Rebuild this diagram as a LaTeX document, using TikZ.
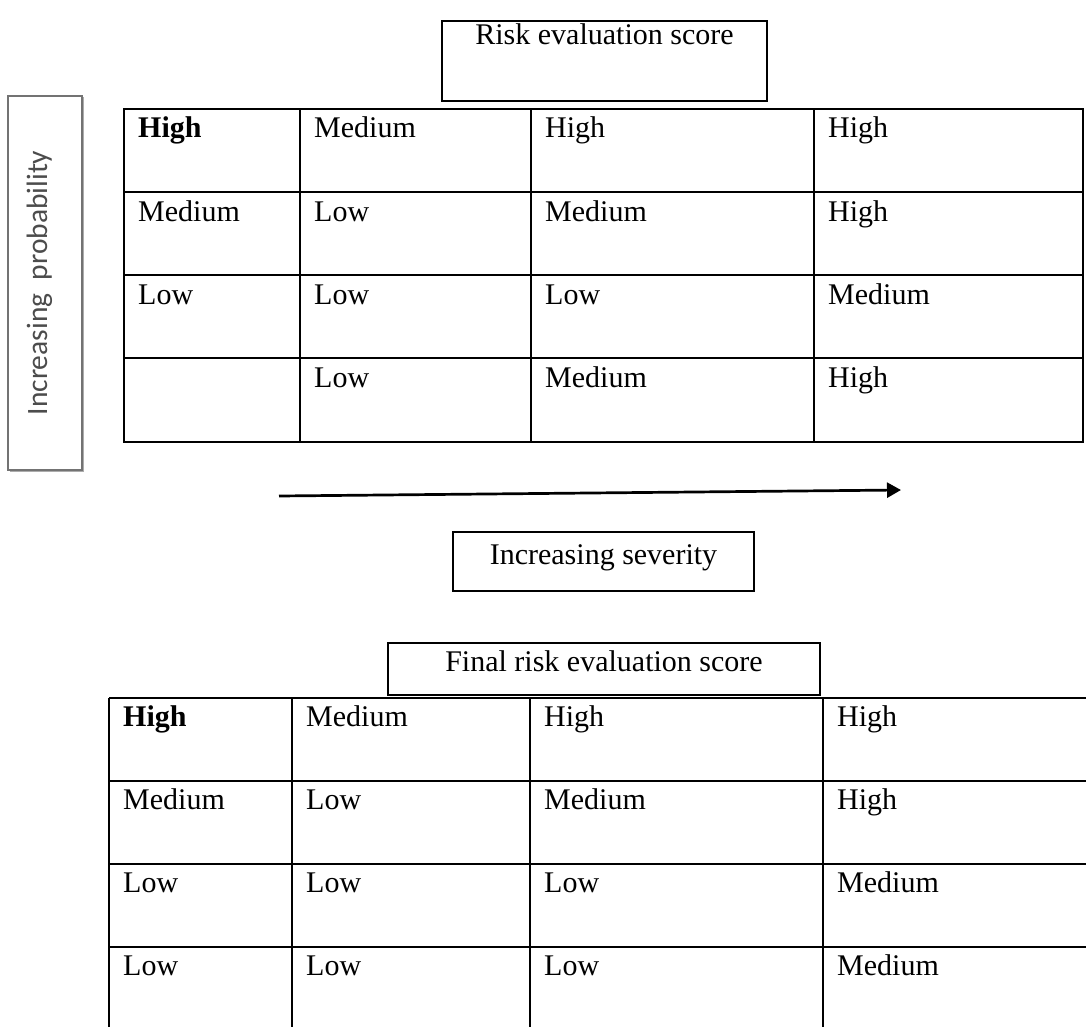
\documentclass[tikz,border=0pt]{standalone}
\usepackage{fontspec}
\setmainfont{Liberation Serif}
\newfontfamily\probfont{Carlito}
\usetikzlibrary{arrows.meta,positioning,shadows}

\begin{document}
\begin{tikzpicture}[x=1pt, y=-1pt,
    cell/.style={anchor=base west, inner sep=0pt, font=\fontsize{30}{36}\selectfont},
    titlebox/.style={draw, line width=2pt, anchor=north, inner sep=0pt, font=\fontsize{30}{36}\selectfont},
    grid/.style={line width=2pt},
    probbox/.style={draw=black!55, line width=1.5pt, fill=white, rotate=90, inner sep=0pt,
        drop shadow={shadow xshift=1.5pt, shadow yshift=-1.5pt, fill=black!65},
        text=black!70, font=\probfont\fontsize{29.5}{34}\selectfont},
    sevarrow/.style={-{Triangle[length=14pt, width=15pt]}, line width=2.7pt},
]
\useasboundingbox (0,0) rectangle (1086,1027);

% Titles
\node[titlebox, minimum width=325pt, text height=24pt, text depth=56pt] (riskbox) at (604.5,20) {Risk evaluation score};
\node[titlebox, minimum width=301pt, text height=32pt, text depth=27pt] (sevbox) at (603.5,531) {Increasing severity};
\node[titlebox, minimum width=432pt, text height=28pt, text depth=24pt] (finalbox) at (604,642) {Final risk evaluation score};

% Probability axis
\node[probbox, minimum width=374pt, text height=39pt, text depth=35pt] (probbox) at (45,283) {Increasing\ \ probability};

% Severity arrow
\coordinate (sevstart) at (279,496);
\coordinate (sevend) at (901,490);
\draw[sevarrow] (sevstart) -- (sevend);

% Risk evaluation matrix
\draw[grid] (124,109) rectangle (1083,442);
\draw[grid] (124,192) -- (1083,192) (124,275) -- (1083,275) (124,358) -- (1083,358);
\draw[grid] (300,109) -- (300,442) (531,109) -- (531,442) (814,109) -- (814,442);

\node[cell] (a11) at (138,138) {\textbf{High}};
\node[cell] (a12) at (314,138) {Medium};
\node[cell] (a13) at (545,138) {High};
\node[cell] (a14) at (828,138) {High};
\node[cell] (a21) at (138,221) {Medium};
\node[cell] (a22) at (314,221) {Low};
\node[cell] (a23) at (545,221) {Medium};
\node[cell] (a24) at (828,221) {High};
\node[cell] (a31) at (138,304) {Low};
\node[cell] (a32) at (314,304) {Low};
\node[cell] (a33) at (545,304) {Low};
\node[cell] (a34) at (828,304) {Medium};
\node[cell] (a42) at (314,387) {Low};
\node[cell] (a43) at (545,387) {Medium};
\node[cell] (a44) at (828,387) {High};

% Final matrix (cut at the page edge)
\draw[grid] (109,698) -- (1090,698) (109,781) -- (1090,781) (109,864) -- (1090,864) (109,947) -- (1090,947);
\draw[grid] (109,698) -- (109,1035) (292,698) -- (292,1035) (530,698) -- (530,1035) (823,698) -- (823,1035);

\node[cell] (b11) at (123,726) {\textbf{High}};
\node[cell] (b12) at (306,726) {Medium};
\node[cell] (b13) at (544,726) {High};
\node[cell] (b14) at (837,726) {High};
\node[cell] (b21) at (123,809) {Medium};
\node[cell] (b22) at (306,809) {Low};
\node[cell] (b23) at (544,809) {Medium};
\node[cell] (b24) at (837,809) {High};
\node[cell] (b31) at (123,892) {Low};
\node[cell] (b32) at (306,892) {Low};
\node[cell] (b33) at (544,892) {Low};
\node[cell] (b34) at (837,892) {Medium};
\node[cell] (b41) at (123,975) {Low};
\node[cell] (b42) at (306,975) {Low};
\node[cell] (b43) at (544,975) {Low};
\node[cell] (b44) at (837,975) {Medium};

\end{tikzpicture}
\end{document}
